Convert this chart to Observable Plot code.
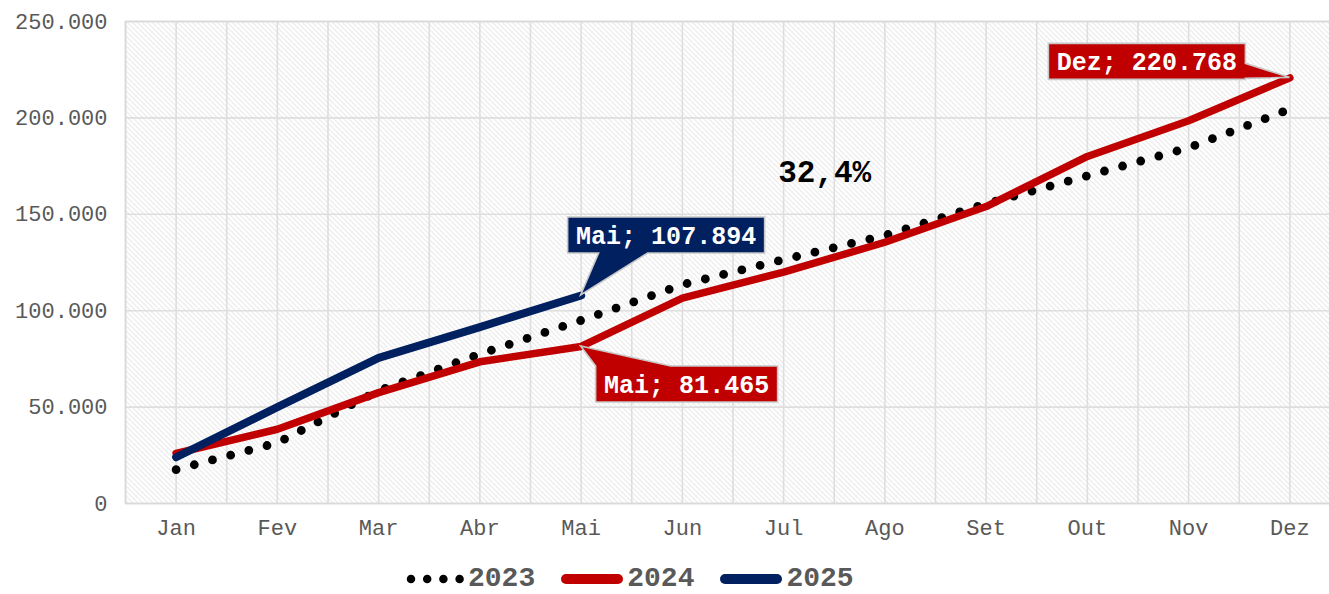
<!DOCTYPE html>
<html><head><meta charset="utf-8">
<script src="https://cdn.jsdelivr.net/npm/d3@7"></script>
<script src="https://cdn.jsdelivr.net/npm/@observablehq/plot@0.6"></script>
<style>
body{margin:0;background:#fff;width:1329px;height:594px;overflow:hidden;position:relative}
#legend{position:absolute;left:402px;top:559px;height:40px;display:flex;align-items:center;font-family:"Liberation Mono","Courier New",monospace;font-weight:bold;font-size:28px;line-height:30px;color:#595959}
#legend .item{display:flex;align-items:center;margin-right:26px}
#legend svg{margin-right:4px}
</style></head><body><div id="chart"></div><div id="legend"></div>
<script>
const months = ["Jan","Fev","Mar","Abr","Mai","Jun","Jul","Ago","Set","Out","Nov","Dez"];
const years = ["2023","2024","2025"];
const values2023 = [17600, 31500, 58500, 77500, 95000, 113500, 126500, 139000, 155500, 170000, 184500, 204500];
const values2024 = [26000, 38500, 57500, 73500, 81465, 106500, 120000, 135500, 154000, 180000, 198500, 220768];
const values2025 = [24000, 50000, 75500, 91500, 107894];
const yTicks = [0, 50000, 100000, 150000, 200000, 250000];
const colors = {"2023": "#000000", "2024": "#C00000", "2025": "#002060"};
const labelled = [{year: "2025", month: "Mai"}, {year: "2024", month: "Mai"}, {year: "2024", month: "Dez"}];

const locale = d3.formatLocale({decimal: ",", thousands: ".", grouping: [3], currency: ["", ""]});
const fmt = locale.format(",d");
const pct = locale.format(".1f");

const rows = (vals, year) => vals.map((v, i) => ({i, month: months[i], value: v, year}));
const r2023 = rows(values2023, "2023"), r2024 = rows(values2024, "2024"), r2025 = rows(values2025, "2025");
const seriesByYear = {"2023": r2023, "2024": r2024, "2025": r2025};

const growth = pct((values2025[4] / values2024[4] - 1) * 100) + "%";
const annotation = [{i: months.indexOf("Jul"), value: 172000, text: growth}];

const FONT = '"Liberation Mono","Courier New",monospace';

const plot = Plot.plot({
  width: 1329, height: 556,
  marginLeft: 125, marginRight: -11, marginTop: 21, marginBottom: 53,
  style: {fontFamily: FONT, fontSize: "22px", color: "#595959", background: "transparent", overflow: "visible"},
  x: {domain: [-0.5, 11.5], ticks: d3.range(12), tickFormat: i => months[i], tickSize: 0, tickPadding: 16, label: null},
  y: {domain: [0, 250000], ticks: yTicks, tickFormat: fmt, tickSize: 0, tickPadding: 18, label: null},
  marks: [
    Plot.frame({fill: "url(#hatch)", stroke: "none"}),
    Plot.ruleX(d3.range(-0.5, 11.6, 0.5), {stroke: "#dedede", strokeWidth: 1.6}),
    Plot.ruleY(yTicks, {stroke: "#dedede", strokeWidth: 1.6}),
    Plot.frame({stroke: "#d9d9d9", strokeWidth: 1.6}),
    Plot.line(r2023, {x: "i", y: "value", stroke: colors["2023"], strokeWidth: 8.8, strokeDasharray: "0 18.8", strokeLinecap: "round"}),
    Plot.line(r2024, {x: "i", y: "value", stroke: colors["2024"], strokeWidth: 7.5, strokeLinejoin: "round", strokeLinecap: "round"}),
    Plot.line(r2025, {x: "i", y: "value", stroke: colors["2025"], strokeWidth: 8, strokeLinejoin: "round", strokeLinecap: "round"}),
    Plot.text(annotation, {x: "i", y: "value", text: "text", dx: 41, fontSize: 31, fontWeight: "bold", fill: "#000"})
  ]
});
document.getElementById("chart").appendChild(plot);

const svg = d3.select(plot);
const defs = svg.insert("defs", ":first-child");
const pat = defs.append("pattern").attr("id", "hatch").attr("patternUnits", "userSpaceOnUse")
  .attr("width", 5).attr("height", 5);
pat.append("rect").attr("width", 5).attr("height", 5).attr("fill", "#ffffff");
pat.append("path").attr("d", "M-1,-1 L6,6 M-1,4 L1,6 M4,-1 L6,1").attr("stroke", "#dcdcdc").attr("stroke-width", 1);

// callouts (placement of each box relative to its point)
const xs = plot.scale("x"), ys = plot.scale("y");
const placement = {
  "2025-Mai": {bx: -13, by: -78, side: "bottom"},
  "2024-Mai": {bx: 15, by: 20, side: "top"},
  "2024-Dez": {bx: -241, by: -34, side: "right"}
};
const calloutFont = 25, charW = calloutFont * 0.6, boxH = 36;
const g = svg.append("g");
for (const lab of labelled) {
  const d = seriesByYear[lab.year].find(r => r.month === lab.month);
  const px = xs.apply(d.i), py = ys.apply(d.value);
  const txt = `${d.month}; ${fmt(d.value)}`;
  const w = txt.length * charW + 17;
  const p = placement[`${lab.year}-${lab.month}`];
  const x0 = px + p.bx, y0 = py + p.by, x1 = x0 + w, y1 = y0 + boxH;
  let path;
  if (p.side === "bottom") {
    path = `M${x0},${y0}H${x1}V${y1}H${x0 + 80}L${px},${py}L${x0 + 31},${y1}H${x0}Z`;
  } else if (p.side === "top") {
    path = `M${x0},${y0}L${px},${py}L${x0 + 75},${y0}H${x1}V${y1}H${x0}Z`;
  } else {
    path = `M${x0},${y0}H${x1}V${y0 + 20}L${px},${py}L${x1},${y1 - 1}V${y1}H${x0}Z`;
  }
  g.append("path").attr("d", path).attr("fill", colors[lab.year]).attr("stroke", "#c8c8c8").attr("stroke-width", 1.6).attr("stroke-linejoin", "miter");
  g.append("text").attr("x", (x0 + x1) / 2).attr("y", (y0 + y1) / 2).attr("dy", "0.35em")
    .attr("text-anchor", "middle").attr("fill", "#fff").attr("font-weight", "bold")
    .attr("font-size", calloutFont).attr("font-family", FONT).text(txt);
}

// legend
const legend = d3.select("#legend");
for (const yr of years) {
  const item = legend.append("div").attr("class", "item");
  const s = item.append("svg").attr("width", 62).attr("height", 14);
  if (yr === "2023") {
    s.append("line").attr("x1", 9).attr("x2", 58).attr("y1", 7).attr("y2", 7)
      .attr("stroke", colors[yr]).attr("stroke-width", 8.5).attr("stroke-linecap", "round").attr("stroke-dasharray", "0 16.2");
  } else {
    s.append("line").attr("x1", 5).attr("x2", 57).attr("y1", 7).attr("y2", 7)
      .attr("stroke", colors[yr]).attr("stroke-width", 10).attr("stroke-linecap", "round");
  }
  item.append("span").text(yr);
}
</script></body></html>
